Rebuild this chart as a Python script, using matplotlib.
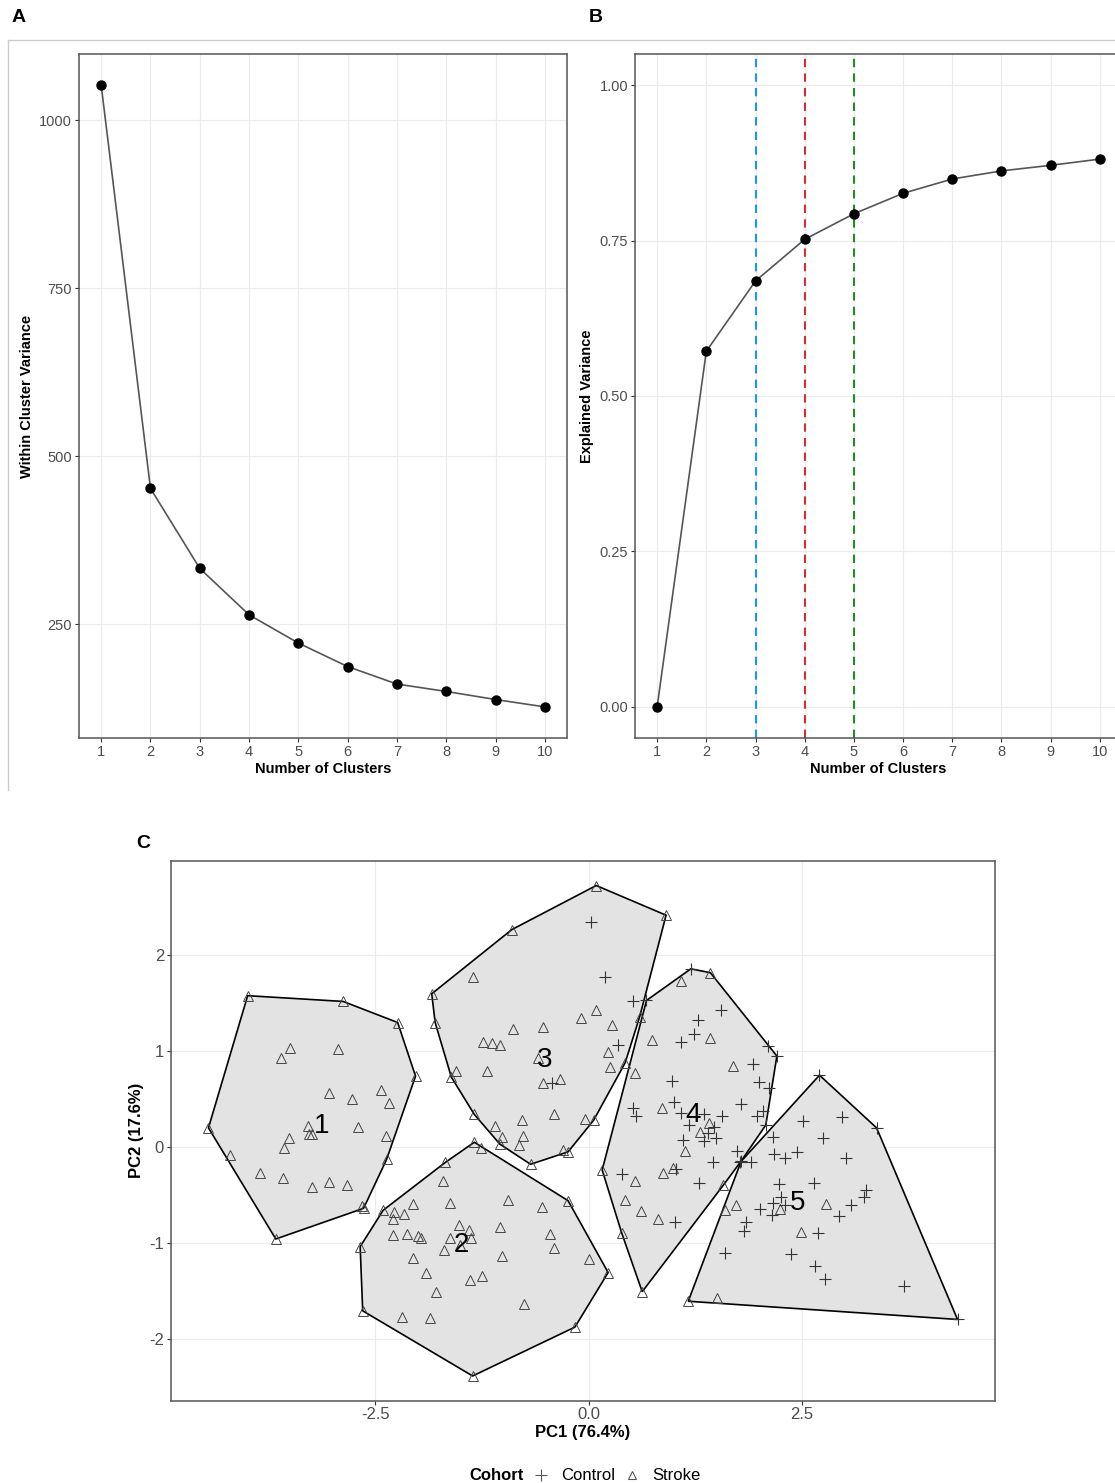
import numpy as np
import matplotlib
matplotlib.use("Agg")
import matplotlib.pyplot as plt
from matplotlib.lines import Line2D
from matplotlib.patches import Polygon

plt.rcParams['font.family'] = ['Liberation Sans', 'DejaVu Sans']
plt.rcParams['axes.unicode_minus'] = False

# ---------------- data ----------------
n_clusters = [1, 2, 3, 4, 5, 6, 7, 8, 9, 10]
within_var = [1052, 452, 333, 264, 222, 187, 161, 150, 138, 127]
explained = [0.0, 0.572, 0.685, 0.752, 0.793, 0.826, 0.849, 0.862, 0.871, 0.881]
vline_k = [3, 4, 5]
vline_colors = ['#1E90FF', '#CD3333', '#228B22']

c1_stroke = [(-4.00, 1.58), (-2.88, 1.52), (-2.24, 1.30), (-2.03, 0.74), (-2.37, -0.13),
             (-2.66, -0.62), (-3.67, -0.96), (-4.46, 0.20), (-3.50, 1.03), (-3.61, 0.93),
             (-2.94, 1.02), (-3.05, 0.56), (-2.77, 0.50), (-2.44, 0.60), (-2.34, 0.46),
             (-3.29, 0.22), (-3.28, 0.14), (-3.25, 0.14), (-2.70, 0.21), (-2.38, 0.11),
             (-3.51, 0.09), (-3.57, -0.01), (-4.21, -0.08), (-3.85, -0.27), (-3.58, -0.32),
             (-3.24, -0.42), (-3.04, -0.37), (-2.83, -0.40), (-2.64, -0.64)]
c1_control = []

c2_stroke = [(-1.34, 0.05), (-1.26, -0.01), (-0.24, -0.56), (0.23, -1.31), (-0.16, -1.88),
             (-1.36, -2.39), (-2.65, -1.71), (-2.68, -1.04), (-2.41, -0.66), (-1.68, -0.16),
             (-1.71, -0.35), (-2.06, -0.59), (-1.63, -0.58), (-0.95, -0.55), (-0.55, -0.63),
             (-2.28, -0.68), (-2.16, -0.70), (-2.29, -0.75), (-1.52, -0.81), (-1.40, -0.87),
             (-1.04, -0.83), (-2.29, -0.92), (-2.13, -0.91), (-2.00, -0.93), (-1.97, -0.95),
             (-1.63, -0.95), (-1.38, -0.95), (-0.45, -0.91), (-1.51, -1.02), (-1.70, -1.08),
             (-0.40, -1.05), (-2.06, -1.16), (-1.02, -1.14), (0.00, -1.17), (-1.91, -1.32),
             (-1.25, -1.35), (-1.39, -1.39), (-1.79, -1.51), (-0.76, -1.64), (-2.19, -1.77),
             (-1.86, -1.78)]
c2_control = []

c3_stroke = [(0.09, 2.73), (0.91, 2.42), (-0.90, 2.27), (-1.84, 1.60), (-1.80, 1.30),
             (-1.35, 1.77), (-1.61, 0.73), (-1.55, 0.79), (-1.34, 0.34), (-1.10, 0.22),
             (-1.04, 0.03), (-1.02, 0.10), (-0.82, 0.02), (-0.77, 0.11), (-0.78, 0.28),
             (-0.68, -0.18), (-0.30, -0.03), (-0.24, -0.05), (-0.04, 0.29), (0.06, 0.28),
             (-0.40, 0.34), (-0.53, 0.67), (-0.33, 0.71), (-1.19, 0.79), (-0.59, 0.93),
             (-1.24, 1.10), (-1.13, 1.09), (-1.04, 1.06), (-0.89, 1.23), (-0.53, 1.25),
             (-0.09, 1.35), (0.09, 1.43), (0.28, 1.27), (0.23, 0.99), (0.25, 0.84),
             (0.43, 0.88), (0.60, 1.36)]
c3_control = [(0.03, 2.35), (0.19, 1.77), (0.52, 1.52), (0.34, 1.07), (-0.43, 0.67)]

c4_stroke = [(1.43, 1.82), (1.58, -0.40), (0.63, -1.51), (0.16, -0.24), (1.09, 1.73),
             (1.42, 1.14), (0.74, 1.12), (0.54, 0.77), (1.69, 0.85), (0.86, 0.41),
             (1.41, 0.25), (1.31, 0.16), (1.13, -0.04), (0.54, -0.35), (0.87, -0.27),
             (0.99, -0.22), (0.43, -0.55), (0.61, -0.67), (0.82, -0.75), (0.39, -0.90)]
c4_control = [(1.20, 1.86), (2.11, 1.05), (2.21, 0.95), (2.08, 0.23), (1.78, -0.16),
              (0.68, 1.53), (1.55, 1.43), (1.28, 1.33), (1.24, 1.18), (1.09, 1.10),
              (1.93, 0.87), (2.00, 0.68), (2.12, 0.62), (0.98, 0.69), (0.52, 0.41),
              (0.56, 0.32), (1.00, 0.47), (1.09, 0.36), (1.36, 0.34), (1.57, 0.32),
              (1.79, 0.45), (1.98, 0.32), (2.05, 0.38), (1.18, 0.23), (1.47, 0.21),
              (1.40, 0.15), (1.50, 0.09), (1.11, 0.07), (1.36, 0.06), (1.74, -0.04),
              (1.46, -0.16), (0.39, -0.28), (1.03, -0.23), (1.30, -0.38), (1.02, -0.78)]

c5_stroke = [(1.17, -1.61), (2.79, -0.59), (2.25, -0.65), (2.49, -0.89), (1.51, -1.58),
             (1.60, -0.66), (1.73, -0.60)]
c5_control = [(2.71, 0.75), (3.38, 0.20), (4.33, -1.80), (1.79, -0.15), (2.52, 0.27),
              (2.98, 0.31), (2.17, 0.10), (2.75, 0.09), (2.18, -0.07), (2.31, -0.11),
              (2.45, -0.05), (3.02, -0.11), (1.91, -0.16), (2.23, -0.39), (2.64, -0.38),
              (3.25, -0.45), (3.23, -0.52), (3.08, -0.60), (2.94, -0.72), (2.26, -0.52),
              (2.17, -0.58), (2.31, -0.61), (2.01, -0.65), (2.15, -0.71), (1.85, -0.78),
              (1.83, -0.88), (2.69, -0.90), (1.60, -1.11), (2.37, -1.12), (2.66, -1.24),
              (2.78, -1.38), (3.70, -1.45)]

cluster_names = ['1', '2', '3', '4', '5']
cluster_centers = [(-3.13, 0.22), (-1.49, -1.02), (-0.52, 0.91), (1.23, 0.33), (2.45, -0.58)]
stroke_sets = [c1_stroke, c2_stroke, c3_stroke, c4_stroke, c5_stroke]
control_sets = [c1_control, c2_control, c3_control, c4_control, c5_control]

# ---------------- helpers ----------------
W, H = 1115, 1483


def fx(px):
    return px / W


def fy(py):
    return 1 - py / H


def convex_hull(points):
    pts = sorted(set(points))
    if len(pts) <= 2:
        return pts

    def cross(o, a, b):
        return (a[0] - o[0]) * (b[1] - o[1]) - (a[1] - o[1]) * (b[0] - o[0])
    lower = []
    for p in pts:
        while len(lower) >= 2 and cross(lower[-2], lower[-1], p) <= 0:
            lower.pop()
        lower.append(p)
    upper = []
    for p in reversed(pts):
        while len(upper) >= 2 and cross(upper[-2], upper[-1], p) <= 0:
            upper.pop()
        upper.append(p)
    return lower[:-1] + upper[:-1]


AX_COL = '#333333'
TICK_COL = '#4D4D4D'
GRID_COL = '#EBEBEB'


def style_axes(ax, labelsize):
    for s in ax.spines.values():
        s.set_color('#555555')
        s.set_linewidth(1.1)
    ax.tick_params(length=3, width=0.8, color=AX_COL, labelcolor=TICK_COL,
                   labelsize=labelsize, pad=2)
    ax.grid(True, color=GRID_COL, lw=0.8)
    ax.set_axisbelow(True)


fig = plt.figure(figsize=(W / 100, H / 100), dpi=100)

# frame lines around A/B region
fig.add_artist(Line2D([fx(8), 1.0], [fy(40), fy(40)], color='#CCCCCC', lw=1.0,
                      transform=fig.transFigure))
fig.add_artist(Line2D([fx(8), fx(8)], [fy(40), fy(790)], color='#CCCCCC', lw=1.0,
                      transform=fig.transFigure))

# ---------------- Panel A ----------------
axA = fig.add_axes([fx(79), fy(738), (567 - 79) / W, (738 - 54) / H])
style_axes(axA, 10.5)
axA.plot(n_clusters, within_var, color='#555555', lw=1.2, zorder=2)
axA.plot(n_clusters, within_var, 'o', color='black', ms=6.5, zorder=3)
axA.set_xticks(n_clusters)
axA.set_yticks([250, 500, 750, 1000])
rngA = max(within_var) - min(within_var)
axA.set_ylim(min(within_var) - 0.05 * rngA, max(within_var) + 0.05 * rngA)
axA.set_xlim(0.55, 10.45)
axA.set_xlabel('Number of Clusters', fontsize=10.5, fontweight='bold', labelpad=2)
axA.set_ylabel('Within Cluster Variance', fontsize=10.5, fontweight='bold', labelpad=4)

# ---------------- Panel B ----------------
axB = fig.add_axes([fx(635), fy(738), 487 / W, (738 - 54) / H])
style_axes(axB, 10.5)
for k, c in zip(vline_k, vline_colors):
    axB.axvline(k, color=c, lw=1.5, ls=(0, (4, 3)), zorder=1.5)
axB.plot(n_clusters, explained, color='#555555', lw=1.2, zorder=2)
axB.plot(n_clusters, explained, 'o', color='black', ms=6.5, zorder=3)
axB.set_xticks(n_clusters)
axB.set_yticks([0.0, 0.25, 0.5, 0.75, 1.0])
axB.set_yticklabels(['0.00', '0.25', '0.50', '0.75', '1.00'])
axB.set_ylim(-0.05, 1.05)
axB.set_xlim(0.55, 10.45)
axB.set_xlabel('Number of Clusters', fontsize=10.5, fontweight='bold', labelpad=2)
axB.set_ylabel('Explained Variance', fontsize=10.5, fontweight='bold', labelpad=4)

# ---------------- Panel C ----------------
axC = fig.add_axes([fx(171), fy(1400.5), (995 - 171) / W, (1400.5 - 861) / H])
style_axes(axC, 12)
all_pts = [p for s in stroke_sets + control_sets for p in s]
xs = np.array([p[0] for p in all_pts])
ys = np.array([p[1] for p in all_pts])
rx = xs.max() - xs.min()
ry = ys.max() - ys.min()
axC.set_xlim(xs.min() - 0.05 * rx, xs.max() + 0.05 * rx)
axC.set_ylim(ys.min() - 0.05 * ry, ys.max() + 0.05 * ry)

for st, ct in zip(stroke_sets, control_sets):
    hull = convex_hull(st + ct)
    axC.add_patch(Polygon(hull, closed=True, facecolor='#E3E3E3', edgecolor='black',
                          lw=1.2, zorder=2))
for st, ct in zip(stroke_sets, control_sets):
    if st:
        axC.plot([p[0] for p in st], [p[1] for p in st], ls='none', marker='^',
                 ms=7, mfc='none', mec='#444444', mew=0.7, zorder=3)
    if ct:
        axC.plot([p[0] for p in ct], [p[1] for p in ct], ls='none', marker='+',
                 ms=8, mec='#333333', mew=0.8, zorder=3)
for name, (cx, cy) in zip(cluster_names, cluster_centers):
    axC.text(cx, cy, name, fontsize=20, ha='center', va='center', color='black', zorder=4)

axC.set_xticks([-2.5, 0.0, 2.5])
axC.set_xticklabels(['-2.5', '0.0', '2.5'])
axC.set_yticks([-2, -1, 0, 1, 2])
axC.set_xlabel('PC1 (76.4%)', fontsize=12, fontweight='bold', labelpad=2)
axC.set_ylabel('PC2 (17.6%)', fontsize=12, fontweight='bold', labelpad=4)

# legend
ly = fy(1475)
fig.text(fx(469), ly, 'Cohort', fontsize=12, fontweight='bold', ha='left', va='center')
fig.add_artist(Line2D([fx(541)], [ly], marker='+', ms=8, mec='#555555', mew=0.8,
                      ls='none', transform=fig.transFigure))
fig.text(fx(561), ly, 'Control', fontsize=12, ha='left', va='center')
fig.add_artist(Line2D([fx(632)], [ly], marker='^', ms=6, mfc='none', mec='#555555',
                      mew=0.8, ls='none', transform=fig.transFigure))
fig.text(fx(652), ly, 'Stroke', fontsize=12, ha='left', va='center')

# panel letters
fig.text(fx(12), fy(18), 'A', fontsize=14, fontweight='bold', ha='left', va='center')
fig.text(fx(589), fy(18), 'B', fontsize=14, fontweight='bold', ha='left', va='center')
fig.text(fx(136), fy(843), 'C', fontsize=14, fontweight='bold', ha='left', va='center')

fig.savefig('out.png', dpi=100)
